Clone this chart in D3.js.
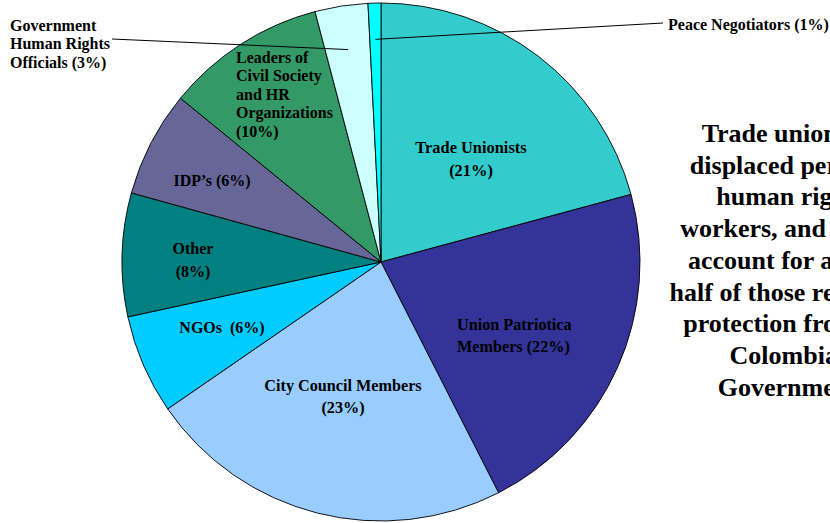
<!DOCTYPE html>
<html>
<head>
<meta charset="utf-8">
<script src="https://cdn.jsdelivr.net/npm/d3@7"></script>
<style>
  body { margin: 0; background: #fff; overflow: hidden; }
  text { font-family: "Times New Roman", "Liberation Serif", serif; font-weight: bold; fill: #000; white-space: pre; }
</style>
</head>
<body>
<script>
// slice data (clockwise from 12 o'clock)
var groups = ["Trade Unionists", "Union Patriotica Members", "City Council Members", "NGOs", "Other",
              "IDP's", "Leaders of Civil Society and HR Organizations", "Government Human Rights Officials", "Peace Negotiators"];
var shares = [20.8, 21.7, 22.9, 6.2, 7.7, 6.6, 10.0, 3.3, 0.8];
var shown = ["21%", "22%", "23%", "6%", "8%", "6%", "10%", "3%", "1%"];
var colors = ["#33CCCC", "#333399", "#99CCFF", "#00CCFF", "#008080", "#666699", "#339966", "#CCFFFF", "#00FFFF"];

// label lines for each slice
var labelLines = [
  ["Trade Unionists", "(21%)"],
  ["Union Patriotica", "Members (22%)"],
  ["City Council Members", "(23%)"],
  ["NGOs  (6%)"],
  ["Other", "(8%)"],
  ["IDP\u2019s (6%)"],
  ["Leaders of", "Civil Society", "and HR", "Organizations", "(10%)"],
  ["Government", "Human Rights", "Officials (3%)"],
  ["Peace Negotiators (1%)"]
];

var note = ["Trade unionists,", "displaced persons,", "human rights", "workers, and others", "account for almost",
            "half of those receiving", "protection from the", "Colombian", "Government."];

//Width and height
var w = 830;
var h = 523;
var cx = 381, cy = 262, r = 259;

// label layout: x, first baseline, line step, anchor, font size
var labelLayout = [
  [471, 153, 23, "middle", 16.4],
  [457, 330, 22, "start", 16.2],
  [343, 391, 22, "middle", 16.2],
  [222, 333, 22, "middle", 16],
  [193, 254, 22.5, "middle", 16],
  [212, 186, 22, "middle", 16],
  [236, 63, 18.4, "start", 16],
  [10, 30.5, 18.8, "start", 16],
  [668, 30, 18, "start", 16]
];
// leader lines for small slices: [slice index, r factor at slice, end x, end y]
var leaders = [
  [7, 0.83, 112, 39],
  [8, 0.86, 663, 23]
];

var svg = d3.select("body")
.append("svg")
.attr("width", w)
.attr("height", h);

var pie = d3.pie().sort(null).value(function(d) { return d; });
var arcs = pie(shares);
var arc = d3.arc().innerRadius(0).outerRadius(r);

var g = svg.append("g").attr("transform", "translate(" + cx + "," + cy + ")");

g.selectAll("path")
.data(arcs)
.enter()
.append("path")
.attr("d", arc)
.attr("fill", function(d, i) { return colors[i]; })
.attr("stroke", "#000")
.attr("stroke-width", 0.9);

// leader lines
leaders.forEach(function(l) {
  var a = arcs[l[0]];
  var mid = (a.startAngle + a.endAngle) / 2;
  var rr = r * l[1];
  svg.append("line")
  .attr("x1", cx + rr * Math.sin(mid))
  .attr("y1", cy - rr * Math.cos(mid))
  .attr("x2", l[2])
  .attr("y2", l[3])
  .attr("stroke", "#000")
  .attr("stroke-width", 1);
});

// slice labels
labelLines.forEach(function(lines, i) {
  var lay = labelLayout[i];
  var t = svg.append("text")
  .attr("text-anchor", lay[3])
  .attr("font-size", lay[4] + "px");
  lines.forEach(function(s, k) {
    t.append("tspan")
    .attr("x", lay[0])
    .attr("y", lay[1] + k * lay[2])
    .text(s);
  });
});

// side note (runs off the right edge, as in the original slide)
var nt = svg.append("text")
.attr("text-anchor", "middle")
.attr("font-size", "26px");
note.forEach(function(s, k) {
  nt.append("tspan")
  .attr("x", 791)
  .attr("y", 142 + k * 31.7)
  .text(s);
});
</script>
</body>
</html>
